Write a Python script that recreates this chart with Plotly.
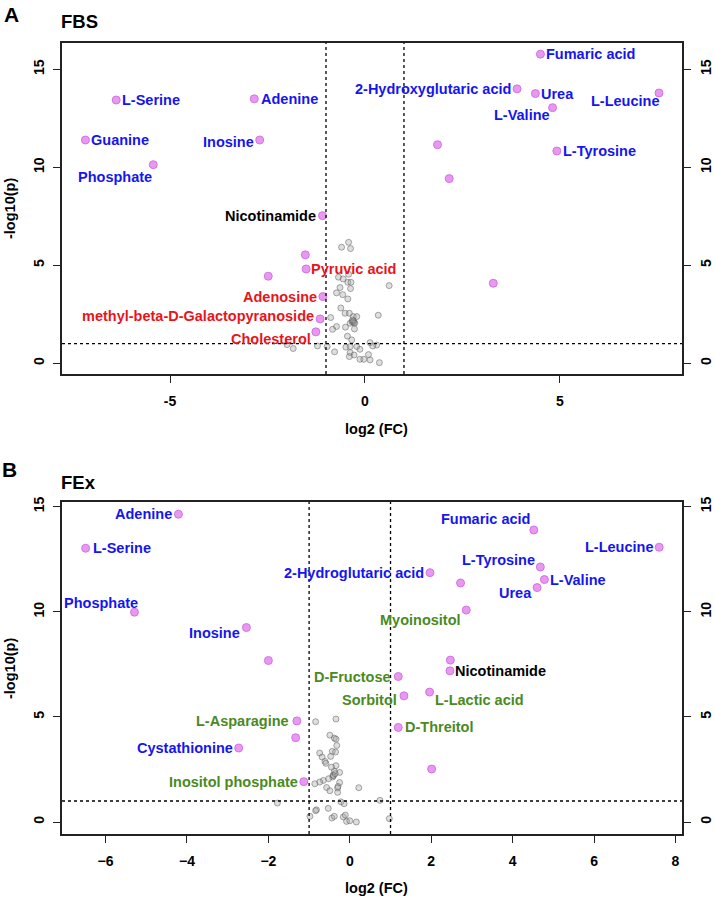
import plotly.graph_objects as go

# ---------------- DATA ----------------
# Panel A (FBS) significant metabolites
a_names = ["L-Serine", "Adenine", "Guanine", "Inosine", "Phosphate", "Nicotinamide",
           "Fumaric acid", "2-Hydroxyglutaric acid", "Urea", "L-Leucine", "L-Valine",
           "L-Tyrosine", "", "", "", "Pyruvic acid", "", "Adenosine",
           "methyl-beta-D-Galactopyranoside", "Cholesterol", ""]
a_fc = [-6.38, -2.84, -7.17, -2.70, -5.43, -1.09,
        4.50, 3.90, 4.37, 7.54, 4.81,
        4.92, 1.86, 2.16, -1.53, -1.51, -2.48, -1.08,
        -1.15, -1.26, 3.29]
a_p = [13.43, 13.49, 11.39, 11.39, 10.13, 7.53,
       15.77, 14.00, 13.76, 13.79, 13.04,
       10.83, 11.15, 9.42, 5.53, 4.81, 4.44, 3.40,
       2.26, 1.60, 4.08]
a_group = ["up", "up", "up", "up", "up", "other",
           "up", "up", "up", "up", "up",
           "up", "", "", "", "down", "", "down",
           "down", "down", ""]

# Panel A non-significant metabolites
a_ns_fc = [-0.60, -0.42, -0.37, 0.62, -0.68, -0.56, -0.42, -0.44, -0.36, -0.64, -0.37,
           -0.73, -0.57, -0.44, -0.62, -0.51, -0.40, 0.34, -0.88, -0.30, -0.21, -0.33,
           -0.28, -0.38, -0.73, -0.83, -0.50, -0.27, -0.45, -0.34, -0.49, -0.38, -0.21,
           -0.13, 0.13, 0.30, 0.20, -0.78, -0.38, -0.28, -0.40, -0.13, -0.03, 0.13,
           0.09, 0.37, -0.97, -1.22, -1.84, -2.00, -0.31, -0.29, -0.26, -0.32]
a_ns_p = [5.92, 6.17, 5.85, 3.96, 4.39, 4.30, 4.54, 4.13, 4.13, 3.86, 3.81,
          3.59, 3.50, 3.28, 2.82, 2.55, 2.55, 2.45, 2.33, 2.38, 2.38, 2.12,
          2.07, 2.04, 1.87, 1.73, 1.84, 1.75, 1.38, 1.19, 0.82, 0.85, 0.85,
          0.71, 1.05, 0.93, 0.88, 0.58, 0.54, 0.42, 0.34, 0.20, 0.20, 0.17,
          0.44, 0.03, 0.85, 0.88, 0.75, 0.95, 2.10, 2.15, 2.05, 2.20]

# Panel B (FEx) significant metabolites
b_names = ["Adenine", "L-Serine", "Phosphate", "Inosine", "2-Hydroglutaric acid",
           "Fumaric acid", "L-Leucine", "L-Tyrosine", "L-Valine", "Urea", "",
           "Myoinositol", "", "D-Fructose", "Sorbitol", "D-Threitol", "L-Asparagine", "",
           "Cystathionine", "Inositol phosphate", "Nicotinamide", "", "L-Lactic acid", ""]
b_fc = [-4.21, -6.49, -5.29, -2.54, 1.97,
        4.52, 7.60, 4.68, 4.78, 4.60, 2.72,
        2.86, -2.00, 1.19, 1.33, 1.19, -1.30, -1.33,
        -2.73, -1.13, 2.46, 2.47, 1.96, 2.01]
b_p = [14.64, 13.02, 9.98, 9.25, 11.86,
       13.89, 13.07, 12.13, 11.53, 11.15, 11.37,
       10.08, 7.68, 6.92, 6.00, 4.50, 4.81, 4.01,
       3.52, 1.92, 7.19, 7.70, 6.18, 2.52]
b_group = ["up", "up", "up", "up", "up",
           "up", "up", "up", "up", "up", "",
           "sugar", "", "sugar", "sugar", "sugar", "sugar", "",
           "up", "sugar", "other", "", "sugar", ""]

# Panel B non-significant metabolites
b_ns_fc = [-0.84, -0.34, -0.49, -0.38, -0.34, -0.32, -0.43, -0.35, -0.74, -0.68, -0.47,
           -0.61, -0.59, -0.34, -0.45, -0.25, -0.38, -0.41, -0.42, -0.52, -0.65, -0.74,
           -0.86, -0.25, -0.29, -0.30, -0.57, -0.49, -0.30, 0.22, -0.22, -0.14, 0.74,
           -0.82, -0.84, -0.53, -0.98, -0.44, -0.38, -0.16, -0.11, -0.08, 0.00, 0.16,
           0.97, -1.78, -0.40, -0.36]
b_ns_p = [4.77, 4.90, 4.13, 3.99, 3.94, 3.64, 3.36, 3.33, 3.28, 3.09, 3.12,
          2.88, 2.79, 2.68, 2.61, 2.36, 2.41, 2.23, 2.14, 2.06, 1.98, 1.90,
          1.82, 1.88, 1.69, 1.62, 1.64, 1.49, 1.41, 1.63, 0.96, 0.87, 1.03,
          0.58, 0.54, 0.65, 0.27, 0.19, 0.27, 0.24, 0.33, 0.03, 0.06, 0.00,
          0.16, 0.90, 2.20, 2.30]

fc_cut = [-1, 1]
p_cut = 1

# ---------------- STYLE / LAYOUT ----------------
W, H = 714, 900
L, R, T, B = 62, 32, 43, 66
PW, PH = W - L - R, H - T - B
FONT = "Liberation Sans, Arial, sans-serif"
LBL = 14.5

group_colors = {"up": "#1515F0", "down": "#E8141C", "other": "#000000", "sugar": "#4A8A22"}

# label placement: (xanchor, xshift px, yshift px)
place_a = {
    "L-Serine": ("left", 4, 0), "Adenine": ("left", 5, 0), "Guanine": ("left", 4, 0),
    "Inosine": ("right", -4, -2), "Phosphate": ("right", 1, -12),
    "Nicotinamide": ("right", -4, 0), "Fumaric acid": ("left", 4, 0),
    "2-Hydroxyglutaric acid": ("right", -4, 0), "Urea": ("left", 4, 0),
    "L-Leucine": ("right", 2, -8), "L-Valine": ("right", -1, -7),
    "L-Tyrosine": ("left", 4, 0), "Pyruvic acid": ("left", 3, 0),
    "Adenosine": ("right", -4, 0), "methyl-beta-D-Galactopyranoside": ("right", -4, 3),
    "Cholesterol": ("right", -3, -7),
}
place_b = {
    "Adenine": ("right", -4, 0), "L-Serine": ("left", 5, 0), "Phosphate": ("right", 6, 9),
    "Inosine": ("right", -4, -5), "2-Hydroglutaric acid": ("right", -4, 0),
    "Fumaric acid": ("right", -2, 11), "L-Leucine": ("right", -4, 0),
    "L-Tyrosine": ("right", -3, 7), "L-Valine": ("left", 4, 0), "Urea": ("right", -3, -5),
    "Myoinositol": ("right", -3, -10), "D-Fructose": ("right", -5, 0),
    "Sorbitol": ("right", -5, -4), "D-Threitol": ("left", 5, 0),
    "L-Asparagine": ("right", -6, 0), "Cystathionine": ("right", -4, 0),
    "Inositol phosphate": ("right", -4, 0), "Nicotinamide": ("left", 3, 0),
    "L-Lactic acid": ("left", 3, -8),
}


def px_x(px):
    return (px - L) / PW


def px_y(py):
    return (H - B - py) / PH


dom_a = [px_y(374), 1.0]
dom_b = [0.0, px_y(502)]

fig = go.Figure()

panels = [
    dict(xa="x", ya="y", yr="y3", ns_fc=a_ns_fc, ns_p=a_ns_p, fc=a_fc, p=a_p,
         names=a_names, groups=a_group, place=place_a),
    dict(xa="x2", ya="y2", yr="y4", ns_fc=b_ns_fc, ns_p=b_ns_p, fc=b_fc, p=b_p,
         names=b_names, groups=b_group, place=place_b),
]

annotations = []
shapes = []
for pn in panels:
    fig.add_trace(go.Scatter(
        x=pn["ns_fc"], y=pn["ns_p"], mode="markers", xaxis=pn["xa"], yaxis=pn["ya"],
        marker=dict(size=6, color="rgba(160,160,160,0.35)",
                    line=dict(color="rgba(90,90,90,0.5)", width=1)),
        showlegend=False, hoverinfo="skip"))
    fig.add_trace(go.Scatter(
        x=pn["fc"], y=pn["p"], mode="markers", xaxis=pn["xa"], yaxis=pn["ya"],
        marker=dict(size=8, color="rgba(232,140,240,0.9)",
                    line=dict(color="rgba(205,110,225,0.9)", width=1)),
        showlegend=False, hoverinfo="skip"))
    fig.add_trace(go.Scatter(x=[], y=[], xaxis=pn["xa"], yaxis=pn["yr"],
                             showlegend=False, hoverinfo="skip"))
    for nm, gx, gy, grp in zip(pn["names"], pn["fc"], pn["p"], pn["groups"]):
        if not nm:
            continue
        anc, dx, dy = pn["place"][nm]
        annotations.append(dict(
            x=gx, y=gy, xref=pn["xa"], yref=pn["ya"], text="<b>%s</b>" % nm,
            showarrow=False, xanchor=anc, yanchor="middle", xshift=dx, yshift=dy,
            font=dict(family=FONT, size=LBL, color=group_colors[grp])))
    for v in fc_cut:
        shapes.append(dict(type="line", xref=pn["xa"], yref=pn["ya"] + " domain",
                           x0=v, x1=v, y0=0, y1=1,
                           line=dict(color="black", width=1.3, dash="dot")))
    shapes.append(dict(type="line", xref=pn["xa"] + " domain", yref=pn["ya"],
                       x0=0, x1=1, y0=p_cut, y1=p_cut,
                       line=dict(color="black", width=1.3, dash="dot")))

tickfont = dict(family=FONT, size=14, color="black", weight="bold")
axis_common = dict(showgrid=False, zeroline=False, showline=True, linecolor="#222",
                   linewidth=1.5, ticks="outside", ticklen=7, tickwidth=1.3,
                   tickcolor="#222", tickfont=tickfont, automargin=False)

fig.update_layout(
    template="none",
    width=W, height=H, margin=dict(l=L, r=R, t=T, b=B, autoexpand=False),
    plot_bgcolor="white", paper_bgcolor="white",
    xaxis=dict(domain=[0, 1], anchor="y", range=[-7.77, 8.13], tickvals=[-5, 0, 5],
               ticktext=["-5", "0", "5"], mirror=True, ticklabelstandoff=6, **axis_common),
    yaxis=dict(domain=dom_a, anchor="x", range=[-0.55, 16.34], tickvals=[0, 5, 10, 15],
               tickangle=-90, mirror=True, ticklabelstandoff=4, **axis_common),
    yaxis3=dict(overlaying="y", side="right", anchor="x", range=[-0.55, 16.34],
                tickvals=[0, 5, 10, 15], tickangle=-90, ticklabelstandoff=3, **axis_common),
    xaxis2=dict(domain=[0, 1], anchor="y2", range=[-7.07, 8.16],
                tickvals=[-6, -4, -2, 0, 2, 4, 6, 8], mirror=True, ticklabelstandoff=6,
                **axis_common),
    yaxis2=dict(domain=dom_b, anchor="x2", range=[-0.57, 15.22], tickvals=[0, 5, 10, 15],
                tickangle=-90, mirror=True, ticklabelstandoff=4, **axis_common),
    yaxis4=dict(overlaying="y2", side="right", anchor="x2", range=[-0.57, 15.22],
                tickvals=[0, 5, 10, 15], tickangle=-90, ticklabelstandoff=3, **axis_common),
    shapes=shapes,
)

title_font = dict(family=FONT, size=14.5, color="black")
extra = [
    dict(text="<b>A</b>", x=px_x(2), y=px_y(14), size=21),
    dict(text="<b>FBS</b>", x=px_x(59), y=px_y(22), size=18.5),
    dict(text="<b>B</b>", x=px_x(0), y=px_y(470), size=21),
    dict(text="<b>FEx</b>", x=px_x(59), y=px_y(482), size=18.5),
]
for e in extra:
    annotations.append(dict(text=e["text"], x=e["x"], y=e["y"], xref="paper", yref="paper",
                            showarrow=False, xanchor="left", yanchor="middle",
                            font=dict(family=FONT, size=e["size"], color="black")))
# axis titles
for (tx, ty, ang, txt) in [(px_x(376), px_y(429), 0, "log2 (FC)"),
                           (px_x(10), px_y(208), -90, "-log10(p)"),
                           (px_x(376), px_y(888), 0, "log2 (FC)"),
                           (px_x(10), px_y(668), -90, "-log10(p)")]:
    annotations.append(dict(text="<b>%s</b>" % txt, x=tx, y=ty, xref="paper", yref="paper",
                            showarrow=False, xanchor="center", yanchor="middle",
                            textangle=ang, font=title_font))

fig.update_layout(annotations=annotations)
fig.write_html(
    "out.html",
    config={"responsive": False, "displayModeBar": False},
    post_script="document.body.style.margin='0';document.body.style.overflow='hidden';",
)
